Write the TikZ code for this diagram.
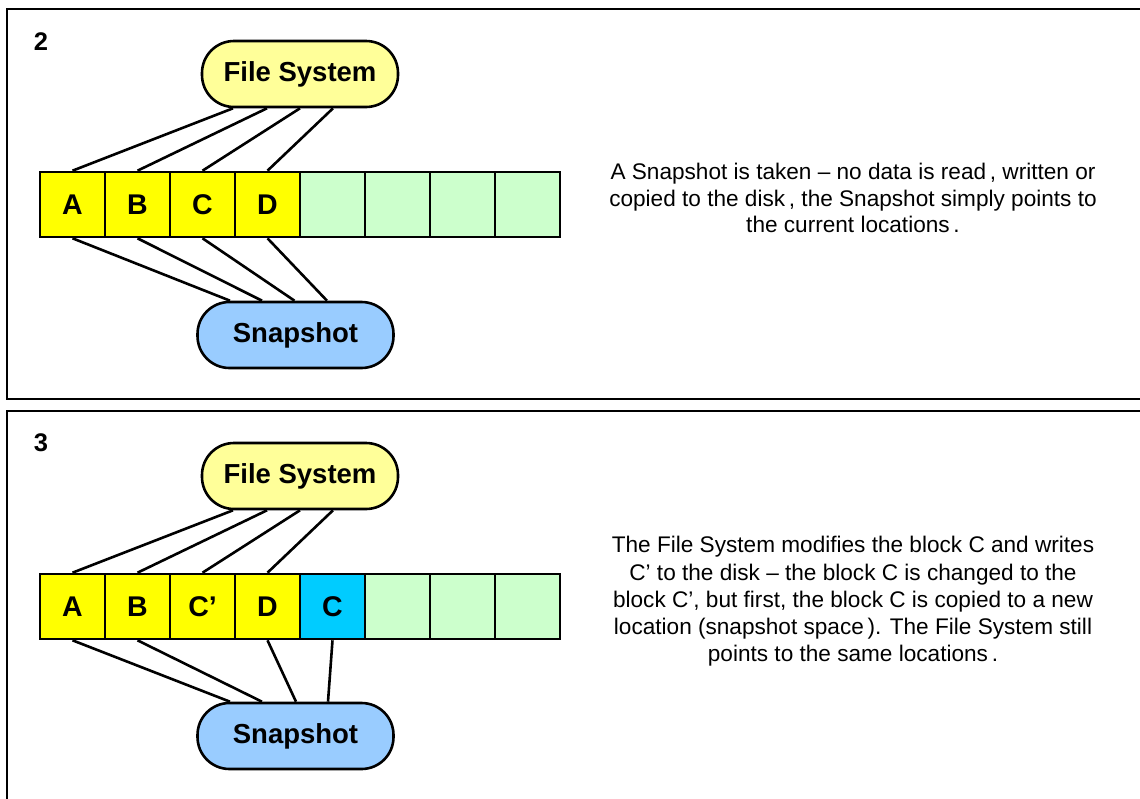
\documentclass[tikz,border=0pt]{standalone}
\usepackage{fontspec}
\setmainfont{Liberation Sans}
\definecolor{blockyellow}{HTML}{FFFF00}
\definecolor{freegreen}{HTML}{CCFFCC}
\definecolor{fsyellow}{HTML}{FFFF99}
\definecolor{snapblue}{HTML}{99CCFF}
\definecolor{copycyan}{HTML}{00CCFF}
\tikzset{
  panel/.style={draw=black, line width=2.6pt},
  blk/.style={draw=black, line width=2.6pt, minimum width=65pt, minimum height=65pt,
    inner sep=0pt, font=\fontsize{28.5}{30}\selectfont\bfseries},
  used/.style={blk, fill=blockyellow},
  free/.style={blk, fill=freegreen},
  copied/.style={blk, fill=copycyan},
  pill/.style={draw=black, line width=2.6pt, minimum width=196pt, minimum height=66pt,
    rounded corners=32pt, inner sep=0pt, font=\fontsize{27.5}{30}\selectfont\bfseries},
  fsnode/.style={pill, fill=fsyellow},
  snapnode/.style={pill, fill=snapblue},
  link/.style={draw=black, line width=2.6pt},
  stepno/.style={font=\fontsize{25.5}{28}\selectfont\bfseries, inner sep=0pt},
  note/.style={align=center, inner sep=0pt, font=\fontsize{22.6}{26.8}\selectfont},
  longnote/.style={note, font=\fontsize{22.6}{27.3}\selectfont}
}
\begin{document}
\begin{tikzpicture}[x=1pt, y=-1pt]
\useasboundingbox (0,0) rectangle (1140,798);
\clip (0,0) rectangle (1140,798);
\fill[white] (0,0) rectangle (1140,798);

% ---------- step 2: snapshot taken ----------
\draw[panel] (7,9) rectangle (1160,399);
\node[stepno] (n2) at (41,42) {2};

\node[fsnode] (fs2) at (300,74) {File System};
\node[snapnode] (sn2) at (295.5,335) {Snapshot};

\node[used] (a2) at (72.5,204.5) {A};
\node[used] (b2) at (137.5,204.5) {B};
\node[used] (c2) at (202.5,204.5) {C};
\node[used] (d2) at (267.5,204.5) {D};
\node[free] (e2) at (332.5,204.5) {};
\node[free] (f2) at (397.5,204.5) {};
\node[free] (g2) at (462.5,204.5) {};
\node[free] (h2) at (527.5,204.5) {};

\draw[link] (a2.north) -- ([xshift=-67pt]fs2.south);
\draw[link] (b2.north) -- ([xshift=-33pt]fs2.south);
\draw[link] (c2.north) -- (fs2.south);
\draw[link] (d2.north) -- ([xshift=33pt]fs2.south);

\draw[link] (a2.south) -- ([xshift=-65.5pt]sn2.north);
\draw[link] (b2.south) -- ([xshift=-33.5pt]sn2.north);
\draw[link] (c2.south) -- ([xshift=-1pt]sn2.north);
\draw[link] (d2.south) -- ([xshift=31.5pt]sn2.north);

\node[note] (t2) at (853,198) {A Snapshot is taken -- no data is read\,, written or\\
copied to the disk\,, the Snapshot simply points to\\
the current locations\,.};

% ---------- step 3: copy on write ----------
\draw[panel] (7,411) rectangle (1160,820);
\node[stepno] (n3) at (41,443) {3};

\node[fsnode] (fs3) at (300,476) {File System};
\node[snapnode] (sn3) at (295.5,736) {Snapshot};

\node[used] (a3) at (72.5,606.5) {A};
\node[used] (b3) at (137.5,606.5) {B};
\node[used] (c3) at (202.5,606.5) {C’};
\node[used] (d3) at (267.5,606.5) {D};
\node[copied] (e3) at (332.5,606.5) {C};
\node[free] (f3) at (397.5,606.5) {};
\node[free] (g3) at (462.5,606.5) {};
\node[free] (h3) at (527.5,606.5) {};

\draw[link] (a3.north) -- ([xshift=-67pt]fs3.south);
\draw[link] (b3.north) -- ([xshift=-33pt]fs3.south);
\draw[link] (c3.north) -- (fs3.south);
\draw[link] (d3.north) -- ([xshift=33pt]fs3.south);

\draw[link] (a3.south) -- ([xshift=-65.5pt]sn3.north);
\draw[link] (b3.south) -- ([xshift=-33.5pt]sn3.north);
\draw[link] (d3.south) -- ([xshift=0.5pt]sn3.north);
\draw[link] (e3.south) -- ([xshift=32.5pt]sn3.north);

\node[longnote] (t3) at (853,601.5) {The File System modifies the block C and writes\\
C’ to the disk -- the block C is changed to the\\
block C’, but first, the block C is copied to a new\\
location (snapshot space\,). The File System still\\
points to the same locations\,.};
\end{tikzpicture}
\end{document}
